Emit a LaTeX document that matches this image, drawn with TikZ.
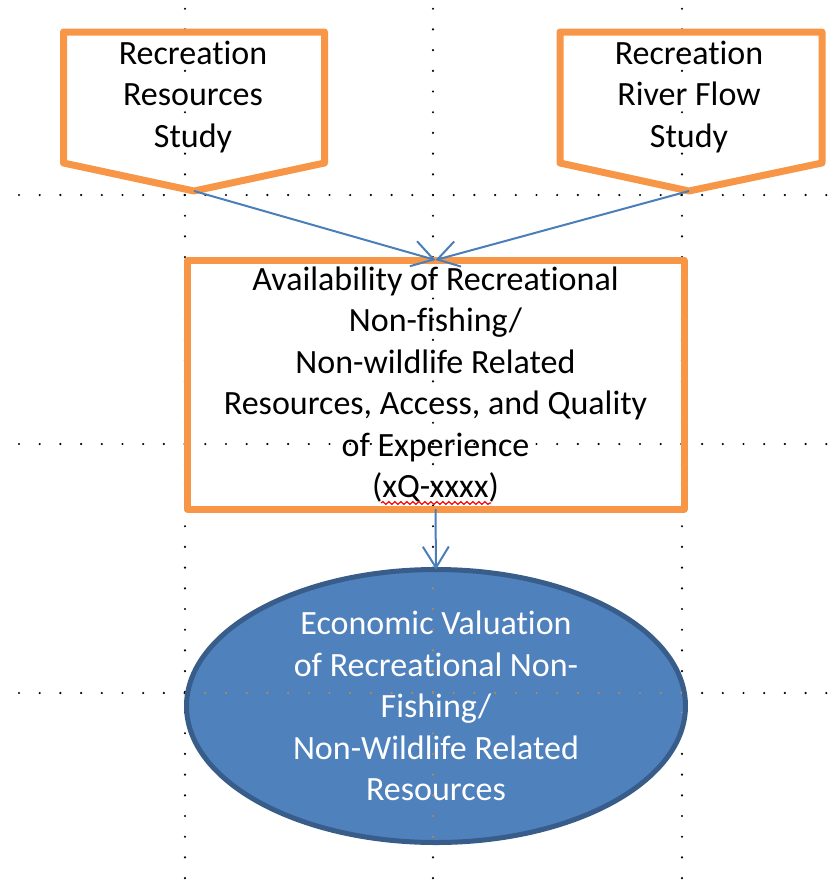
\documentclass[tikz,border=0pt]{standalone}
\usepackage{fontspec}
\setmainfont{Carlito}[RawFeature={-liga;-clig;-calt;-dlig}]
\usetikzlibrary{arrows.meta}
\usetikzlibrary{shapes.geometric}
\usetikzlibrary{decorations.pathmorphing}
\definecolor{c1}{RGB}{247,150,70}
\definecolor{c2}{RGB}{79,129,189}
\definecolor{c3}{RGB}{56,93,138}
\definecolor{c4}{RGB}{74,126,187}
\definecolor{c5}{RGB}{186,136,84}

\begin{document}
\begin{tikzpicture}[
    x=0.5pt, y=-0.5pt,
    every node/.style={
        align=center, font=\fontsize{17}{20.75}\selectfont
    },
    d/.style={
        line cap=round, line width=1.2pt,
        dash pattern=on 0pt off 10.35pt
    },
    o/.style={
        draw=c1, line width=3.5pt, line join=round
    },
    r/.style={
        o, rectangle, inner sep=0pt, outer sep=0pt,
        minimum width=248.5pt, minimum height=124.5pt
    },
    e/.style={
        ellipse, fill=c2, draw=c3, line width=2.5pt,
        inner sep=0pt, outer sep=0pt,
        minimum width=249.5pt, minimum height=136.5pt
    },
    a/.style={
        draw=c4, line width=1pt,
        -{Straight Barb[length=10.5pt,width=13pt]}
    }
]
    \useasboundingbox (0,0) rectangle (838,880);

    % grid
    \foreach \gy in {195,444,693}
        \draw [d] (19,\gy) -- (838,\gy);
    \foreach \gx in {185,433,682}
        \draw [d] (\gx,8.7) -- (\gx,880);

    \draw [o] (63.5,32) -- (324.5,32) -- (324.5,163) -- (194,191) -- (63.5,163) -- cycle;
    \draw [o] (560,32) -- (822,32) -- (822,163) -- (689,191) -- (560,163) -- cycle;
    \coordinate (restip) at (194,191);
    \coordinate (flowtip) at (689,191);

    \node (resources) at (193,97) {Recreation\\Resources\\Study};
    \node (riverflow) at (689,97) {Recreation\\River Flow\\Study};

    \node [r] (availability) at (435.5,384.5) {Availability of Recreational\\Non-fishing/\\Non-wildlife Related\\Resources, Access, and Quality\\of Experience\\(xQ-xxxx)};

    \node [e] (valuation) at (436,706) {};
    \node [text=white] (valuationtext) at (valuation) {Economic Valuation\\of Recreational Non-\\Fishing/\\Non-Wildlife Related\\Resources};

    \begin{scope}
        \clip (436,706) ellipse [x radius=123.5pt, y radius=67pt];
        \foreach \gy in {195,444,693}
            \draw [d, draw=c5] (19,\gy) -- (838,\gy);
        \foreach \gx in {185,433,682}
            \draw [d, draw=c5] (\gx,8.7) -- (\gx,880);
    \end{scope}

    \draw [red, line width=0.6pt, decorate,
        decoration={snake, amplitude=0.7pt, segment length=3pt}]
        (381,503) -- (491,503);

    \draw [a] (restip) -- (availability.north);
    \draw [a] (flowtip) -- (availability.north);
    \draw [a] (availability.south) -- (valuation.north);
\end{tikzpicture}
\end{document}
